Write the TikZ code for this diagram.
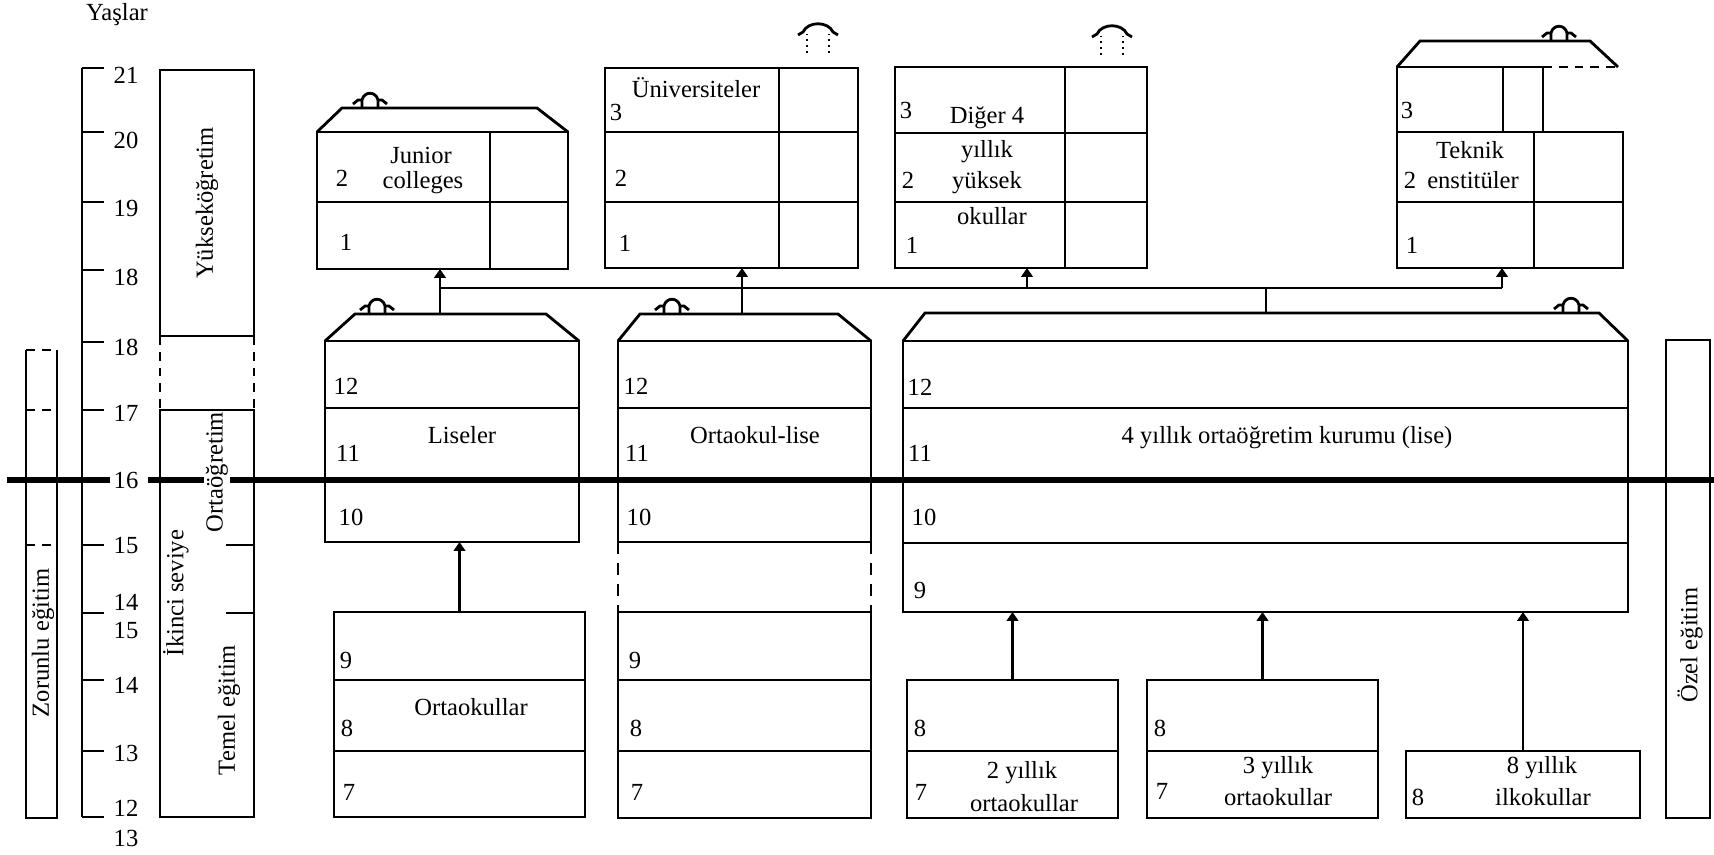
\documentclass[tikz,border=0pt]{standalone}
\usepackage{fontspec}
\setmainfont{Liberation Serif}
\usetikzlibrary{fit,arrows.meta}
\tikzset{
  ln/.style={line width=1.6pt},
  box/.style={draw,line width=1.6pt,inner sep=0pt,outer sep=0pt,fit={#1}},
  thk/.style={line width=3.2pt},
  dsh/.style={line width=1.6pt,dash pattern=on 5pt off 4pt},
  arr/.style={line width=1.6pt,-{Triangle[length=5pt,width=6.5pt]}},
  txt/.style={font=\fontsize{14}{16}\selectfont,inner sep=0pt},
  vtxt/.style={txt,rotate=90},
  chim/.pic={
    \draw[line width=1.6pt] (-8,0) -- (-8,-7) (8,0) -- (8,-7)
      (-17,-4) -- (-12,-8) -- (-8,-8) .. controls (-6,-17) and (6,-17) .. (8,-8) -- (12,-8) -- (17,-4);
  },
  chimd/.pic={
    \draw[line width=1.4pt,dotted] (-11,0) -- (-11,-19) (11,0) -- (11,-19);
    \draw[line width=1.6pt] (-20,-18) -- (-15,-21) .. controls (-10,-32) and (10,-32) .. (15,-21) -- (20,-18);
  }
}
\begin{document}
\begin{tikzpicture}[x=0.02cm,y=-0.02cm]
\useasboundingbox (0,0) rectangle (1714,855);

% ---------- age axis ----------
\node[txt] (yas) at (117,15) {Yaşlar};
\coordinate (ax0) at (82,68);
\coordinate (ax1) at (82,817);
\draw[ln] (ax0) -- (ax1);
\foreach \y in {68,132,202,270,342,410,545,613,680,751,817}
  \draw[ln] (82,\y) -- (104,\y);
\foreach \y/\t [count=\i] in {75/21,140/20,208/19,277/18,347/18,413/17,480/16,545/15,602/14,630/15,685/14,753/13,808/12,838/13}
  \node[txt] (age\i) at (126,\y) {\t};

% thick line at age 16
\draw[thk] (7,480) -- (110,480);
\draw[thk] (148,480) -- (204,480);
\draw[thk] (230,480) -- (1714,480);

% ---------- Zorunlu egitim ----------
\coordinate (z1) at (26,350);
\coordinate (z2) at (57,350);
\coordinate (z3) at (26,818);
\coordinate (z4) at (57,818);
\draw[ln] (z1) -- (z3) -- (z4) -- (z2);
\draw[dsh] (z1) -- (z2);
\draw[dsh] (26,410) -- (57,410);
\draw[dsh] (26,545) -- (57,545);
\node[vtxt] (zortxt) at (43,643) {Zorunlu eğitim};

% ---------- left level boxes ----------
\node[box={(160,70) (254,336)}] (yuk) {};
\node[vtxt] (yuktxt) at (yuk.center) {Yükseköğretim};
\node[box={(160,410) (254,817)}] (ikinci) {};
\draw[dsh] (yuk.south west) -- (ikinci.north west);
\draw[dsh] (yuk.south east) -- (ikinci.north east);
\draw[ln] (226,545) -- (254,545);
\draw[ln] (226,613) -- (254,613);
\node[vtxt] (ortatxt) at (217,472) {Ortaöğretim};
\node[vtxt] (ikitxt) at (176,593) {İkinci seviye};
\node[vtxt] (temtxt) at (229,710) {Temel eğitim};

% ---------- Junior colleges ----------
\node[box={(317,132) (568,269)}] (jc) {};
\draw[ln] (317,202) -- (568,202) (490,132) -- (490,269);
\draw[ln] (jc.north west) -- (342,108) -- (537,108) -- (jc.north east);
\pic at (370,108) {chim};
\node[txt] (jc2) at (342,178) {2};
\node[txt] (jcA) at (421,155) {Junior};
\node[txt] (jcB) at (423,183) {colleges};
\node[txt] (jc1) at (346,242) {1};

% ---------- Universiteler ----------
\node[box={(605,68) (858,268)}] (uni) {};
\draw[ln] (605,132) -- (858,132) (605,202) -- (858,202) (779,68) -- (779,268);
\pic at (818,53) {chimd};
\node[txt] (uniT) at (696,88) {Üniversiteler};
\node[txt] (uni3) at (616,112) {3};
\node[txt] (uni2) at (621,178) {2};
\node[txt] (uni1) at (625,243) {1};

% ---------- Diger 4 yillik ----------
\node[box={(895,67) (1147,268)}] (dig) {};
\draw[ln] (895,133) -- (1147,133) (895,202) -- (1147,202) (1065,67) -- (1065,268);
\pic at (1112,55) {chimd};
\node[txt] (dig3) at (906,110) {3};
\node[txt] (digA) at (987,118) {Diğer 4};
\node[txt] (digB) at (987,152) {yıllık};
\node[txt] (dig2) at (908,180) {2};
\node[txt] (digC) at (987,183) {yüksek};
\node[txt] (digD) at (992,216) {okullar};
\node[txt] (dig1) at (912,245) {1};

% ---------- Teknik enstituler ----------
\node[box={(1397,132) (1623,268)}] (tek) {};
\draw[ln] (1397,202) -- (1623,202) (1534,132) -- (1534,268);
\draw[ln] (1397,132) -- (1397,67) -- (1543,67) -- (1543,132) (1503,67) -- (1503,132);
\draw[dsh] (1543,67) -- (1618,67);
\draw[ln] (1397,67) -- (1420,41) -- (1590,41) -- (1618,67);
\pic at (1559,41) {chim};
\node[txt] (tek3) at (1407,110) {3};
\node[txt] (tekA) at (1470,150) {Teknik};
\node[txt] (tek2) at (1410,180) {2};
\node[txt] (tekB) at (1473,180) {enstitüler};
\node[txt] (tek1) at (1412,245) {1};

% ---------- Liseler ----------
\node[box={(325,341) (579,542)}] (lis) {};
\draw[ln] (325,408) -- (579,408);
\draw[ln] (lis.north west) -- (355,314) -- (546,314) -- (lis.north east);
\pic at (377,314) {chim};
\node[txt] (lis12) at (346,386) {12};
\node[txt] (lisT) at (462,435) {Liseler};
\node[txt] (lis11) at (348,453) {11};
\node[txt] (lis10) at (351,517) {10};

% ---------- Ortaokul-lise ----------
\node[box={(618,341) (871,542)}] (olu) {};
\draw[ln] (618,408) -- (871,408);
\draw[ln] (olu.north west) -- (640,314) -- (838,314) -- (olu.north east);
\pic at (672,314) {chim};
\node[box={(618,612) (871,818)}] (oll) {};
\draw[ln] (618,680) -- (871,680) (618,751) -- (871,751);
\draw[line width=1.6pt,dash pattern=on 7pt off 5pt] (olu.south west) -- (oll.north west);
\draw[line width=1.6pt,dash pattern=on 7pt off 5pt] (olu.south east) -- (oll.north east);
\node[txt] (ol12) at (636,386) {12};
\node[txt] (olT) at (755,435) {Ortaokul-lise};
\node[txt] (ol11) at (637,453) {11};
\node[txt] (ol10) at (639,517) {10};
\node[txt] (ol9) at (635,660) {9};
\node[txt] (ol8) at (636,728) {8};
\node[txt] (ol7) at (637,792) {7};

% ---------- Ortaokullar ----------
\node[box={(334,612) (585,817)}] (ook) {};
\draw[ln] (334,680) -- (585,680) (334,751) -- (585,751);
\node[txt] (ook9) at (346,660) {9};
\node[txt] (ookT) at (471,707) {Ortaokullar};
\node[txt] (ook8) at (347,728) {8};
\node[txt] (ook7) at (349,792) {7};

% ---------- 4 yillik ortaogretim ----------
\node[box={(903,341) (1628,612)}] (dort) {};
\draw[ln] (903,408) -- (1628,408) (903,543) -- (1628,543);
\draw[ln] (dort.north west) -- (925,313) -- (1599,313) -- (dort.north east);
\pic at (1571,313) {chim};
\node[txt] (d12) at (920,387) {12};
\node[txt] (d11) at (920,453) {11};
\node[txt] (d10) at (924,517) {10};
\node[txt] (d9) at (920,590) {9};
\node[txt] (dT) at (1287,438) {4 yıllık ortaöğretim kurumu (lise)};

% ---------- lower schools ----------
\node[box={(907,680) (1118,818)}] (iki) {};
\draw[ln] (907,751) -- (1118,751);
\node[txt] (iki8) at (920,728) {8};
\node[txt] (iki7) at (921,792) {7};
\node[txt] (ikiA) at (1022,773) {2 yıllık};
\node[txt] (ikiB) at (1024,803) {ortaokullar};

\node[box={(1147,680) (1378,818)}] (uc) {};
\draw[ln] (1147,751) -- (1378,751);
\node[txt] (uc8) at (1160,728) {8};
\node[txt] (uc7) at (1162,791) {7};
\node[txt] (ucA) at (1278,768) {3 yıllık};
\node[txt] (ucB) at (1278,797) {ortaokullar};

\node[box={(1406,751) (1640,818)}] (sek) {};
\node[txt] (sek8) at (1418,797) {8};
\node[txt] (sekA) at (1542,768) {8 yıllık};
\node[txt] (sekB) at (1543,797) {ilkokullar};

% ---------- Ozel egitim ----------
\node[box={(1666,340) (1710,818)}] (oz) {};
\node[vtxt] (oztxt) at (1690,645) {Özel eğitim};

% ---------- connectors ----------
\coordinate (lisTop) at (440,314);
\coordinate (olTop) at (742,314);
\coordinate (dTop) at (1266,313);
\coordinate (bL) at (440,288);
\coordinate (b3) at (1027,288);
\coordinate (b4) at (1502,288);
\draw[ln] (bL) -- (b4);
\draw[arr] (lisTop) -- (lisTop |- jc.south);
\draw[arr] (olTop) -- (olTop |- uni.south);
\draw[ln] (dTop) -- (dTop |- bL);
\draw[arr] (b3) -- (b3 |- dig.south);
\draw[arr] (b4) -- (b4 |- tek.south);
\draw[arr] (ook.north) -- (ook.north |- lis.south);
\draw[arr] (iki.north) -- (iki.north |- dort.south);
\draw[arr] (uc.north) -- (uc.north |- dort.south);
\draw[arr] (sek.north) -- (sek.north |- dort.south);
\end{tikzpicture}
\end{document}
